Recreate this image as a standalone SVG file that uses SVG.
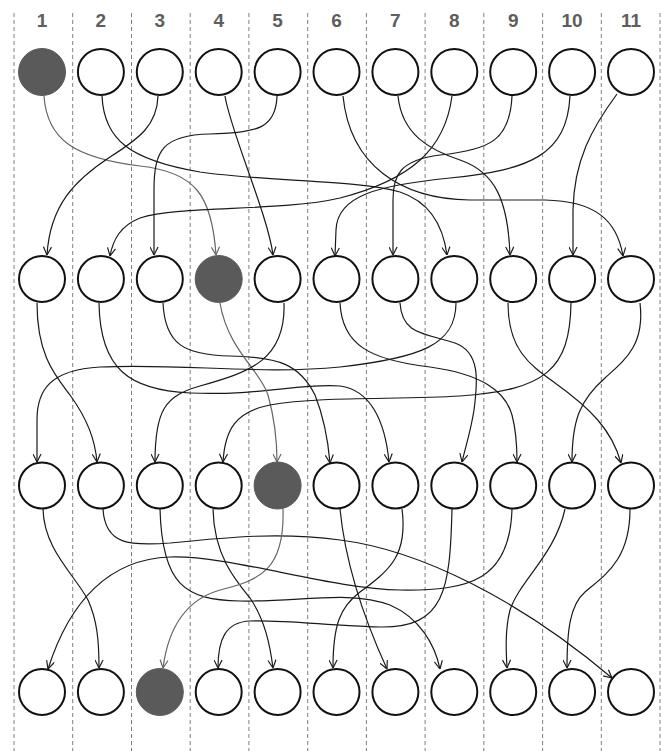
<svg xmlns="http://www.w3.org/2000/svg" width="661" height="751" viewBox="0 0 661 751">
<style>
.grid line{stroke:#808080;stroke-width:1;stroke-dasharray:4,3}
.lbl{font-family:"Liberation Sans",Arial,sans-serif;font-weight:bold;font-size:19px;fill:#5e5e5e;text-anchor:middle}
.n circle{fill:#fff;stroke:#111;stroke-width:2}
.n.hl circle{fill:#5a5a5a;stroke:#5a5a5a;stroke-width:1}
.edges path{fill:none;stroke:#1a1a1a;stroke-width:1.2;marker-end:url(#ah)}
.edges path.hl{stroke:#666;marker-end:url(#ahg)}
</style>
<defs>
<marker id="ah" viewBox="0 0 10 10" refX="10" refY="5" markerWidth="9" markerHeight="9" markerUnits="userSpaceOnUse" orient="auto"><path d="M1,0.5 L10,5 L1,9.5" fill="none" stroke="#1a1a1a" stroke-width="1.3"/></marker>
<marker id="ahg" viewBox="0 0 10 10" refX="10" refY="5" markerWidth="9" markerHeight="9" markerUnits="userSpaceOnUse" orient="auto"><path d="M1,0.5 L10,5 L1,9.5" fill="none" stroke="#666" stroke-width="1.3"/></marker>
</defs>
<rect width="661" height="751" fill="#fff"/>
<g class="grid">
<line x1="14" y1="13" x2="14" y2="751"/>
<line x1="72.7" y1="13" x2="72.7" y2="751"/>
<line x1="131.5" y1="13" x2="131.5" y2="751"/>
<line x1="190.2" y1="13" x2="190.2" y2="751"/>
<line x1="248.9" y1="13" x2="248.9" y2="751"/>
<line x1="307.7" y1="13" x2="307.7" y2="751"/>
<line x1="366.4" y1="13" x2="366.4" y2="751"/>
<line x1="425.1" y1="13" x2="425.1" y2="751"/>
<line x1="483.8" y1="13" x2="483.8" y2="751"/>
<line x1="542.6" y1="13" x2="542.6" y2="751"/>
<line x1="601.3" y1="13" x2="601.3" y2="751"/>
<line x1="660" y1="13" x2="660" y2="751"/>
</g>
<g id="labels">
<text class="lbl" x="42" y="27">1</text>
<text class="lbl" x="100.9" y="27">2</text>
<text class="lbl" x="159.8" y="27">3</text>
<text class="lbl" x="218.7" y="27">4</text>
<text class="lbl" x="277.6" y="27">5</text>
<text class="lbl" x="336.5" y="27">6</text>
<text class="lbl" x="395.4" y="27">7</text>
<text class="lbl" x="454.3" y="27">8</text>
<text class="lbl" x="513.2" y="27">9</text>
<text class="lbl" x="572.1" y="27">10</text>
<text class="lbl" x="631" y="27">11</text>
</g>
<g class="edges" id="connectors">
<!-- row 1 to row 2 -->
<path class="hl" d="M44,96 C47,140 75,158 140,166 C195,172 212,195 216,255"/>
<path d="M102,96 C104,140 130,160 200,172 C270,182 360,180 400,192 C430,202 443,225 447,255"/>
<path d="M158,96 C157,125 140,138 110,157 C75,180 50,205 47,255"/>
<path d="M225,96 C230,130 268,215 273,255"/>
<path d="M277,96 C276,128 258,133 210,134 C163,135 154,150 154,190 L154,255"/>
<path d="M343,96 C350,165 400,199 470,200 L545,200 C595,201 617,220 623,256"/>
<path d="M398,96 C402,135 430,150 460,160 C495,172 508,200 510,255"/>
<path d="M452,96 C445,150 410,180 340,198 C280,212 180,205 140,218 C120,226 113,240 110,256"/>
<path d="M512,96 C510,140 490,150 440,155 C400,160 393,175 393,200 L393,255"/>
<path d="M570,96 C567,155 530,170 450,178 C380,185 337,195 336,230 L335,256"/>
<path d="M617,94 C592,128 574,160 573,210 L573,255"/>
<!-- row 2 to row 3 -->
<path d="M37,303 C37,355 55,375 70,395 C88,420 95,440 97,462"/>
<path d="M99,303 C100,370 130,390 190,393 C260,396 300,383 340,386 C370,390 385,420 389,462"/>
<path d="M163,303 C165,345 185,355 230,356 C280,357 300,365 315,395 C323,415 328,440 330,463"/>
<path class="hl" d="M220,303 C228,350 260,370 268,395 C275,420 277,440 277,462"/>
<path d="M284,303 C286,360 250,372 200,386 C165,396 155,410 155,462"/>
<path d="M340,303 C342,345 370,360 430,367 C480,374 505,390 512,415 C516,430 517,445 517,462"/>
<path d="M400,303 C402,335 425,333 455,343 C480,352 478,380 474,410 C471,430 466,445 462,462"/>
<path d="M456,303 C456,345 420,358 340,367 C260,375 180,363 100,367 C50,370 37,390 37,420 L37,462"/>
<path d="M508,303 C508,350 530,365 555,383 C590,408 612,430 621,463"/>
<path d="M571,303 C570,370 545,390 460,396 C400,400 320,396 270,405 C235,412 225,430 223,462"/>
<path d="M640,303 C645,345 625,360 605,378 C580,400 572,420 572,462"/>
<!-- row 3 to row 4 -->
<path d="M43,509 C44,550 75,575 88,600 C97,620 99,640 99,668"/>
<path d="M103,509 C105,545 130,546 170,543 C230,537 280,532 340,540 C420,550 520,600 612,678"/>
<path d="M160,509 C162,585 185,600 240,601 C300,602 350,590 390,605 C420,618 435,645 440,669"/>
<path d="M213,509 C214,555 235,580 250,598 C265,620 270,645 273,668"/>
<path class="hl" d="M283,509 C285,570 260,580 220,590 C185,600 168,630 163,668"/>
<path d="M340,509 C345,560 360,610 387,669"/>
<path d="M402,509 C408,555 390,570 360,592 C340,607 333,625 333,668"/>
<path d="M452,509 C450,590 445,628 380,627 C330,626 290,620 250,621 C225,622 218,640 218,668"/>
<path d="M512,509 C510,580 470,591 400,590 C330,589 230,555 170,557 C110,559 70,600 48,669"/>
<path d="M565,509 C555,555 520,580 510,610 C505,630 506,650 507,668"/>
<path d="M630,509 C630,560 605,575 585,592 C570,605 567,630 567,668"/>
</g>
<g id="row1">
<g id="n1-1" class="n hl"><circle cx="42" cy="72" r="23.5"/></g>
<g id="n1-2" class="n"><circle cx="100.9" cy="72" r="23"/></g>
<g id="n1-3" class="n"><circle cx="159.8" cy="72" r="23"/></g>
<g id="n1-4" class="n"><circle cx="218.7" cy="72" r="23"/></g>
<g id="n1-5" class="n"><circle cx="277.6" cy="72" r="23"/></g>
<g id="n1-6" class="n"><circle cx="336.5" cy="72" r="23"/></g>
<g id="n1-7" class="n"><circle cx="395.4" cy="72" r="23"/></g>
<g id="n1-8" class="n"><circle cx="454.3" cy="72" r="23"/></g>
<g id="n1-9" class="n"><circle cx="513.2" cy="72" r="23"/></g>
<g id="n1-10" class="n"><circle cx="572.1" cy="72" r="23"/></g>
<g id="n1-11" class="n"><circle cx="631" cy="72" r="23"/></g>
</g>
<g id="row2">
<g id="n2-1" class="n"><circle cx="42" cy="279" r="23"/></g>
<g id="n2-2" class="n"><circle cx="100.9" cy="279" r="23"/></g>
<g id="n2-3" class="n"><circle cx="159.8" cy="279" r="23"/></g>
<g id="n2-4" class="n hl"><circle cx="218.7" cy="279" r="23.5"/></g>
<g id="n2-5" class="n"><circle cx="277.6" cy="279" r="23"/></g>
<g id="n2-6" class="n"><circle cx="336.5" cy="279" r="23"/></g>
<g id="n2-7" class="n"><circle cx="395.4" cy="279" r="23"/></g>
<g id="n2-8" class="n"><circle cx="454.3" cy="279" r="23"/></g>
<g id="n2-9" class="n"><circle cx="513.2" cy="279" r="23"/></g>
<g id="n2-10" class="n"><circle cx="572.1" cy="279" r="23"/></g>
<g id="n2-11" class="n"><circle cx="631" cy="279" r="23"/></g>
</g>
<g id="row3">
<g id="n3-1" class="n"><circle cx="42" cy="485.5" r="23"/></g>
<g id="n3-2" class="n"><circle cx="100.9" cy="485.5" r="23"/></g>
<g id="n3-3" class="n"><circle cx="159.8" cy="485.5" r="23"/></g>
<g id="n3-4" class="n"><circle cx="218.7" cy="485.5" r="23"/></g>
<g id="n3-5" class="n hl"><circle cx="277.6" cy="485.5" r="23.5"/></g>
<g id="n3-6" class="n"><circle cx="336.5" cy="485.5" r="23"/></g>
<g id="n3-7" class="n"><circle cx="395.4" cy="485.5" r="23"/></g>
<g id="n3-8" class="n"><circle cx="454.3" cy="485.5" r="23"/></g>
<g id="n3-9" class="n"><circle cx="513.2" cy="485.5" r="23"/></g>
<g id="n3-10" class="n"><circle cx="572.1" cy="485.5" r="23"/></g>
<g id="n3-11" class="n"><circle cx="631" cy="485.5" r="23"/></g>
</g>
<g id="row4">
<g id="n4-1" class="n"><circle cx="42" cy="692" r="23"/></g>
<g id="n4-2" class="n"><circle cx="100.9" cy="692" r="23"/></g>
<g id="n4-3" class="n hl"><circle cx="159.8" cy="692" r="23.5"/></g>
<g id="n4-4" class="n"><circle cx="218.7" cy="692" r="23"/></g>
<g id="n4-5" class="n"><circle cx="277.6" cy="692" r="23"/></g>
<g id="n4-6" class="n"><circle cx="336.5" cy="692" r="23"/></g>
<g id="n4-7" class="n"><circle cx="395.4" cy="692" r="23"/></g>
<g id="n4-8" class="n"><circle cx="454.3" cy="692" r="23"/></g>
<g id="n4-9" class="n"><circle cx="513.2" cy="692" r="23"/></g>
<g id="n4-10" class="n"><circle cx="572.1" cy="692" r="23"/></g>
<g id="n4-11" class="n"><circle cx="631" cy="692" r="23"/></g>
</g>
</svg>
